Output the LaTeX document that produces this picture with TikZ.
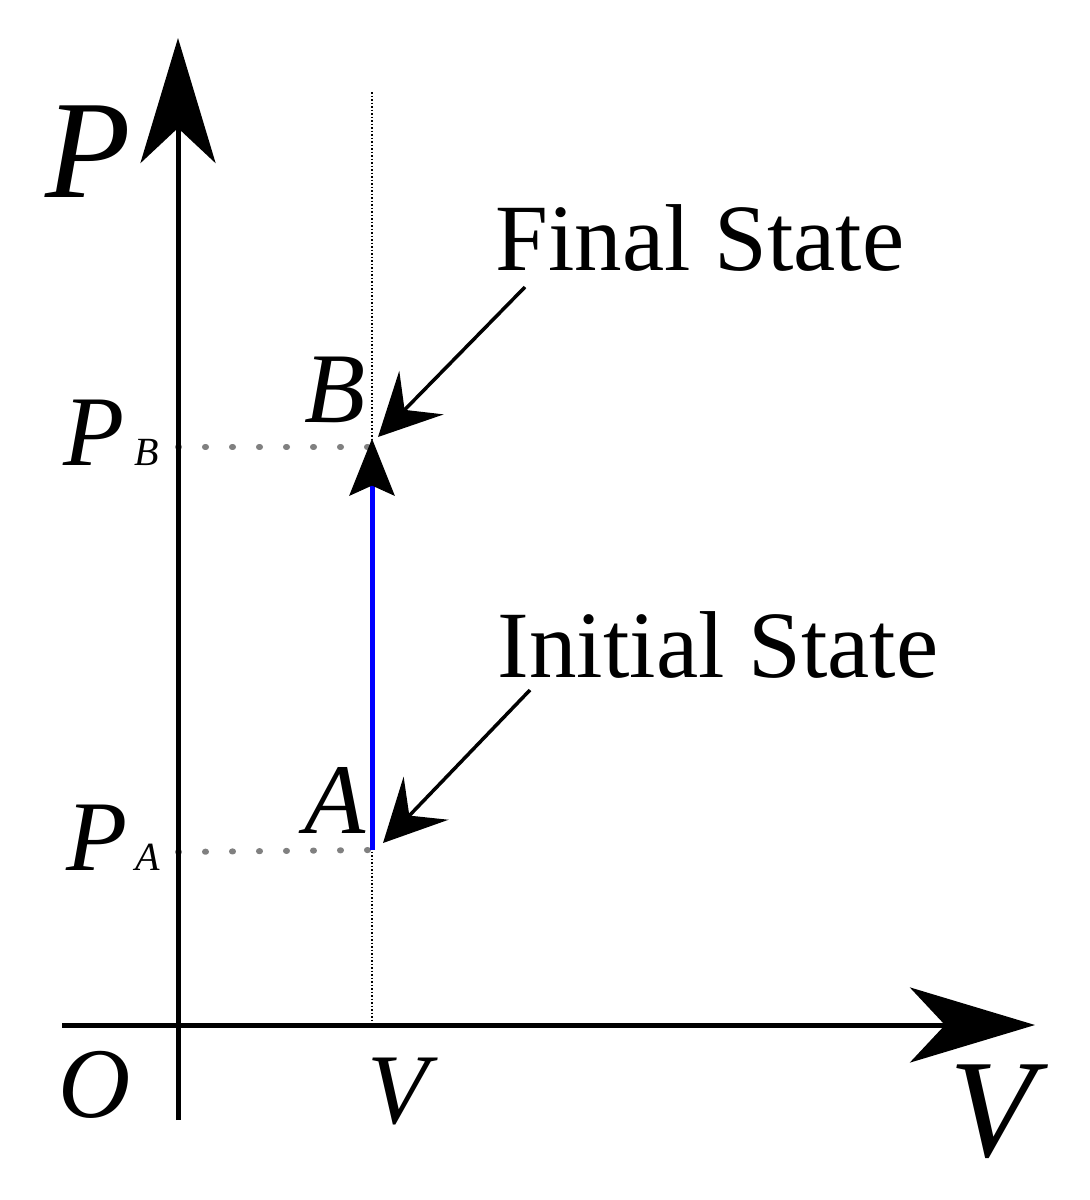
\documentclass[tikz,border=0pt]{standalone}
\usepackage{fontspec}
\setmainfont{Liberation Serif}
\usetikzlibrary{arrows.meta}
\begin{document}
\begin{tikzpicture}[x=1pt,y=-1pt,
  ax/.style={line width=5pt,-{Stealth[length=125pt,width=75pt,inset=35pt]}},
  pt/.style={line width=3.5pt,-{Stealth[length=62pt,width=62pt,inset=24pt]}},
  lab/.style={font=\fontsize{95}{110}\selectfont},
  big/.style={font=\fontsize{140}{160}\selectfont\itshape},
  mid/.style={font=\fontsize{100}{120}\selectfont\itshape}]
\useasboundingbox (0,0) rectangle (1090,1200);
\coordinate (ybot) at (178,1120); \coordinate (ytop) at (178,38);
\coordinate (xl) at (62,1025); \coordinate (xr) at (1035,1025);
\coordinate (vt) at (372,92); \coordinate (vb) at (372,1025);
\coordinate (A) at (372,850); \coordinate (B) at (372,440);
\coordinate (PB) at (178,447); \coordinate (PA) at (178,852);
\draw[line width=1.5pt,dotted] (vt) -- (vb);
\draw[gray,line width=6pt,line cap=round,dash pattern=on 1pt off 26pt] (PB) -- (B|-PB);
\draw[gray,line width=6pt,line cap=round,dash pattern=on 1pt off 26pt] (PA) -- (A);
\draw[ax] (ybot) -- (ytop);
\draw[ax] (xl) -- (xr);
\draw[blue,line width=5pt] (A) -- (372,480);
\draw[line width=1pt,fill=black] (372,440) -- (350,495) -- (372,485) -- (394,495) -- cycle;
\node[big] (P) at (88,152) {P};
\node[big] (Vx) at (992,1112) {V};
\node[mid] (O) at (95,1085) {O};
\node[mid] (Vv) at (398,1092) {V};
\node[mid] (Bl) at (335,390) {B};
\node[mid] (Al) at (335,800) {A};
\node[mid,anchor=base west] (PBl) at (60,465) {P\hspace{10pt}\fontsize{40}{40}\selectfont B};
\node[mid,anchor=base west] (PAl) at (63,870) {P\hspace{8pt}\fontsize{40}{40}\selectfont A};
\node[lab] (fs) at (700,238) {Final State};
\node[lab] (is) at (718,645) {Initial State};
\coordinate (f0) at (525,287); \coordinate (i0) at (530,690);
\draw[pt] (f0) -- (378,437);
\draw[pt] (i0) -- (383,843);
\end{tikzpicture}
\end{document}
